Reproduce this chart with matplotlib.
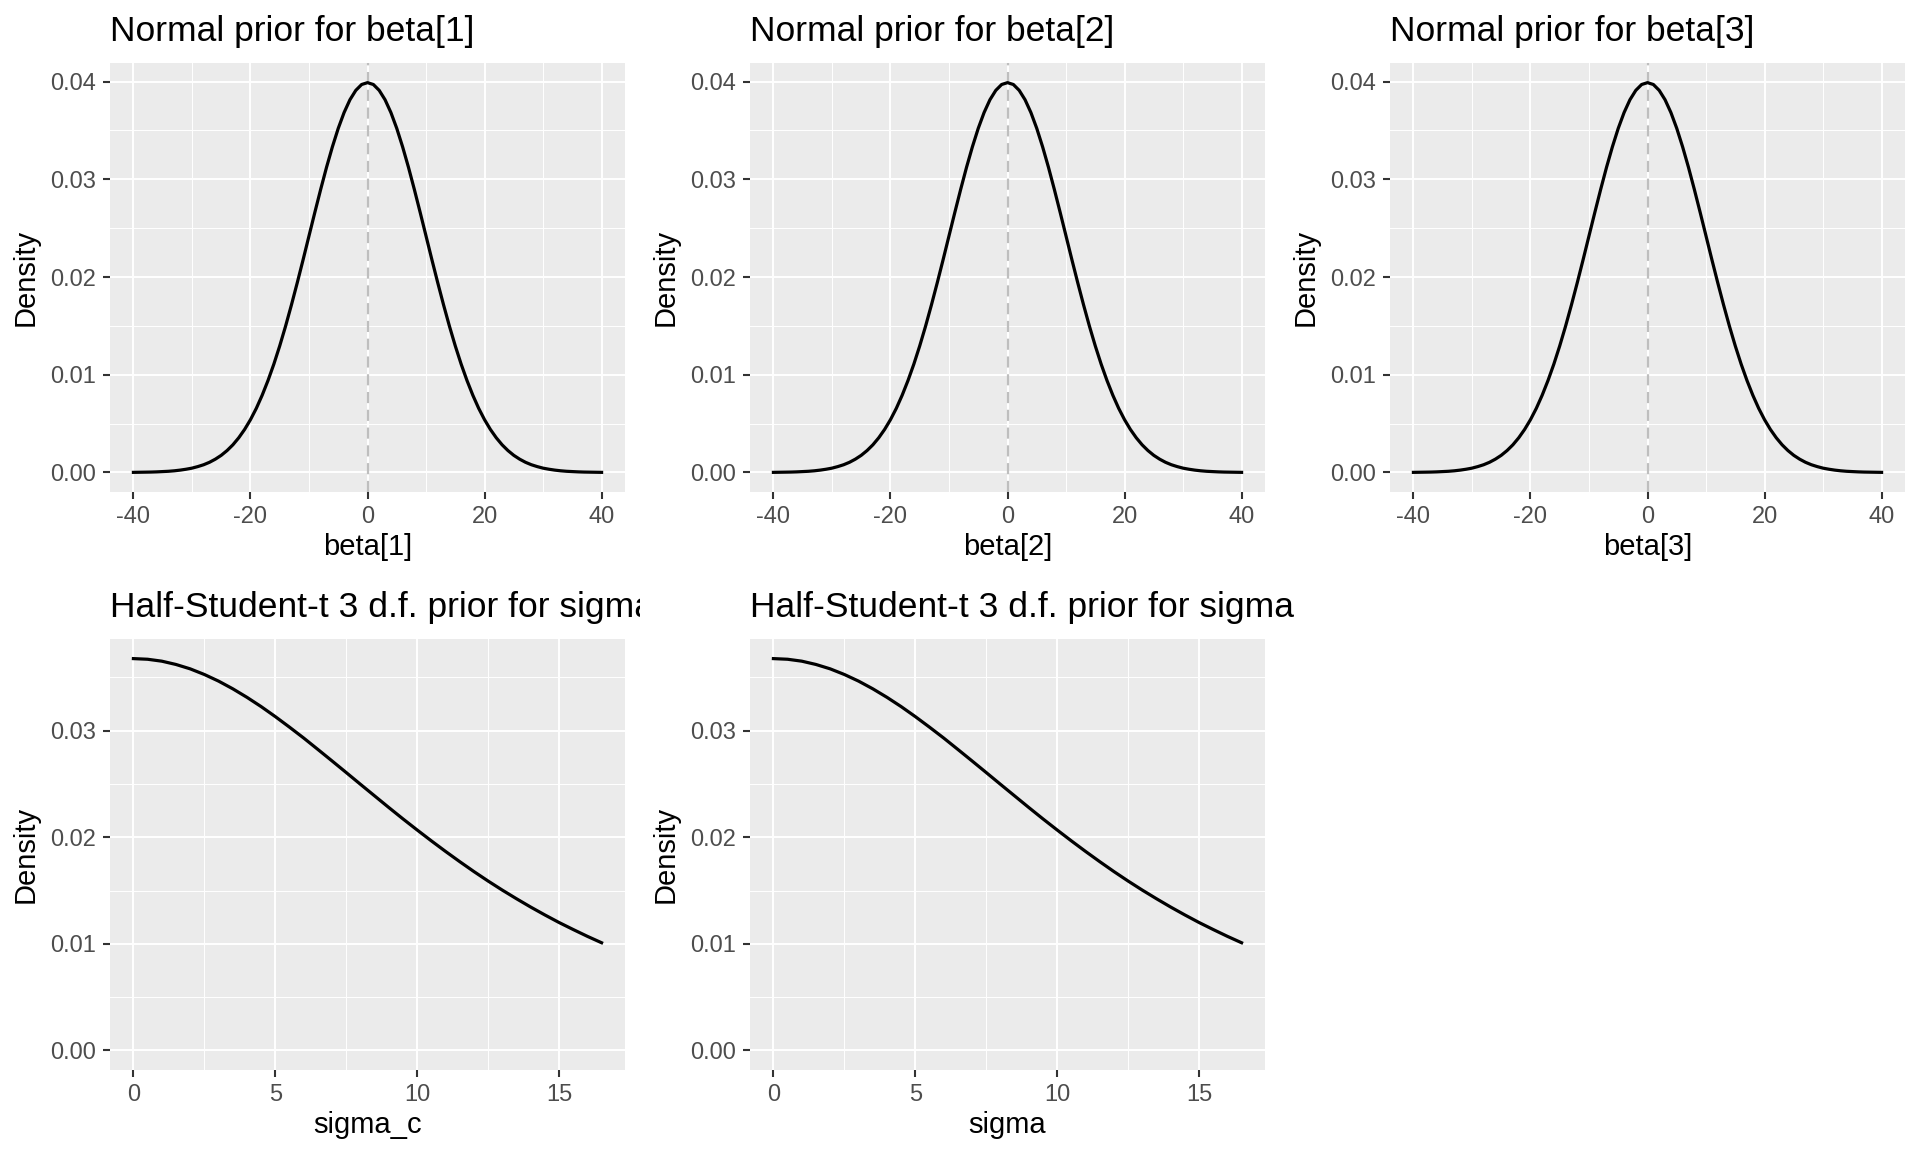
import matplotlib
matplotlib.use('Agg')
import matplotlib.pyplot as plt
from matplotlib.transforms import Bbox, TransformedBbox

plt.rcParams['font.family'] = ['Liberation Sans', 'DejaVu Sans']
plt.rcParams['axes.unicode_minus'] = False

# normal(0, 10) prior curve
beta_x = [-40, -39, -38, -37, -36, -35, -34, -33, -32, -31, -30, -29, -28, -27, -26, -25, -24, -23, -22, -21,
          -20, -19, -18, -17, -16, -15, -14, -13, -12, -11, -10, -9, -8, -7, -6, -5, -4, -3, -2, -1,
          0, 1, 2, 3, 4, 5, 6, 7, 8, 9, 10, 11, 12, 13, 14, 15, 16, 17, 18, 19,
          20, 21, 22, 23, 24, 25, 26, 27, 28, 29, 30, 31, 32, 33, 34, 35, 36, 37, 38, 39, 40]
beta_dens = [0.00001, 0.00002, 0.00003, 0.00004, 0.00006, 0.00009, 0.00012, 0.00017, 0.00024, 0.00033,
             0.00044, 0.00060, 0.00079, 0.00104, 0.00136, 0.00175, 0.00224, 0.00283, 0.00355, 0.00440,
             0.00540, 0.00656, 0.00790, 0.00941, 0.01109, 0.01295, 0.01497, 0.01714, 0.01942, 0.02178,
             0.02420, 0.02661, 0.02897, 0.03123, 0.03332, 0.03521, 0.03683, 0.03814, 0.03910, 0.03970,
             0.03989,
             0.03970, 0.03910, 0.03814, 0.03683, 0.03521, 0.03332, 0.03123, 0.02897, 0.02661, 0.02420,
             0.02178, 0.01942, 0.01714, 0.01497, 0.01295, 0.01109, 0.00941, 0.00790, 0.00656, 0.00540,
             0.00440, 0.00355, 0.00283, 0.00224, 0.00175, 0.00136, 0.00104, 0.00079, 0.00060, 0.00044,
             0.00033, 0.00024, 0.00017, 0.00012, 0.00009, 0.00006, 0.00004, 0.00003, 0.00002, 0.00001]
beta_names = ['beta[1]', 'beta[2]', 'beta[3]']

# half student-t (3 df) prior curve
sigma_x = [0, 0.5, 1, 1.5, 2, 2.5, 3, 3.5, 4, 4.5, 5, 5.5, 6, 6.5, 7, 7.5, 8, 8.5, 9, 9.5,
           10, 10.5, 11, 11.5, 12, 12.5, 13, 13.5, 14, 14.5, 15, 15.5, 16, 16.5]
sigma_dens = [0.03676, 0.03670, 0.03652, 0.03621, 0.03580, 0.03527, 0.03465, 0.03393, 0.03313, 0.03226,
              0.03132, 0.03033, 0.02931, 0.02824, 0.02716, 0.02607, 0.02497, 0.02388, 0.02279, 0.02172,
              0.02068, 0.01966, 0.01867, 0.01771, 0.01678, 0.01589, 0.01504, 0.01423, 0.01345, 0.01271,
              0.01200, 0.01134, 0.01070, 0.01010]
sigma_names = ['sigma_c', 'sigma']

W, H = 1920, 1152
fig = plt.figure(figsize=(19.2, 11.52), dpi=100)


def style_axes(ax):
    ax.set_facecolor('#EBEBEB')
    for s in ax.spines.values():
        s.set_visible(False)
    ax.set_axisbelow(True)
    ax.grid(which='major', color='white', linewidth=1.4)
    ax.grid(which='minor', color='white', linewidth=0.7)
    ax.tick_params(which='major', length=5, width=1.5, color='#333333', labelcolor='#4D4D4D',
                   labelsize=17, pad=5)
    ax.tick_params(which='minor', length=0)
    ax.set_ylabel('Density', fontsize=21, labelpad=8)


# top row
for i, name in enumerate(beta_names):
    ax = fig.add_axes([(110 + 640 * i) / W, 1 - 492 / H, 515 / W, 429 / H])
    style_axes(ax)
    ax.axvline(0, color='#BEBEBE', linewidth=1.6, linestyle=(0, (5, 3)), zorder=1.5)
    ax.plot(beta_x, beta_dens, color='black', linewidth=2.3, zorder=3)
    ax.set_xlim(-44, 44)
    ax.set_ylim(-0.002, 0.0419)
    ax.set_xticks([-40, -20, 0, 20, 40])
    ax.set_xticks([-30, -10, 10, 30], minor=True)
    ax.set_yticks([0, 0.01, 0.02, 0.03, 0.04])
    ax.set_yticks([0.005, 0.015, 0.025, 0.035], minor=True)
    ax.set_yticklabels(['0.00', '0.01', '0.02', '0.03', '0.04'])
    ax.set_xlabel(name, fontsize=21, labelpad=4)
    ax.set_title('Normal prior for ' + name, loc='left', fontsize=25.5, pad=16)

# bottom row
for i, name in enumerate(sigma_names):
    ax = fig.add_axes([(110 + 640 * i) / W, 1 - 1070 / H, 515 / W, 431 / H])
    style_axes(ax)
    ax.plot(sigma_x, sigma_dens, color='black', linewidth=2.3, zorder=3)
    ax.set_xlim(-0.825, 17.325)
    ax.set_ylim(-0.00184, 0.0386)
    ax.set_xticks([0, 5, 10, 15])
    ax.set_xticks([2.5, 7.5, 12.5], minor=True)
    ax.set_yticks([0, 0.01, 0.02, 0.03])
    ax.set_yticks([0.005, 0.015, 0.025, 0.035], minor=True)
    ax.set_yticklabels(['0.00', '0.01', '0.02', '0.03'])
    ax.set_xlabel(name, fontsize=21, labelpad=4)
    t = ax.set_title('Half-Student-t 3 d.f. prior for ' + name, loc='left', fontsize=25.5, pad=16)
    # title is cut at the edge of its cell, as in the original layout
    if i == 0:
        t.set_clip_box(TransformedBbox(Bbox([[0, 0], [1 / 3, 1]]), fig.transFigure))
        t.set_clip_on(True)

fig.savefig('out.png', dpi=100)
